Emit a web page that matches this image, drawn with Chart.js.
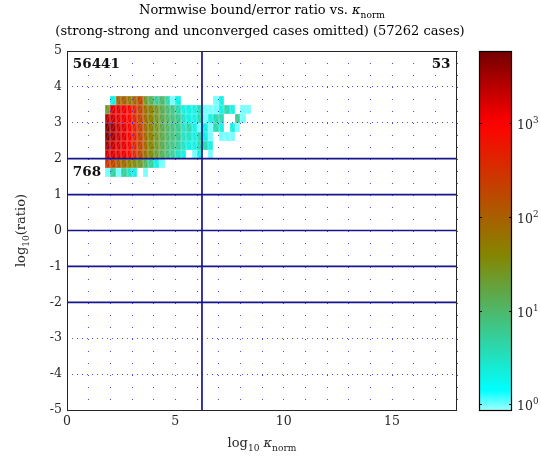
<!DOCTYPE html>
<html>
<head>
<meta charset="utf-8">
<script src="https://cdn.jsdelivr.net/npm/chart.js@4.4.1/dist/chart.umd.min.js"></script>
<style>
  html, body { margin: 0; padding: 0; background: #ffffff; }
  canvas { display: block; }
</style>
</head>
<body>
<canvas id="chart" width="541" height="457"></canvas>
<script>
// ---------------- data ----------------
// left edges of the log10(kappa_norm) bins
const kappaBinLeft = [1.75, 2.00, 2.25, 2.50, 2.75, 3.00, 3.25, 3.50, 3.75, 4.00, 4.25, 4.50, 4.75,
                      5.00, 5.25, 5.50, 5.75, 6.00, 6.25, 6.50, 6.75, 7.00, 7.25, 7.50, 7.75, 8.00, 8.25];
// lower edges of the log10(ratio) bins, top row first
const ratioBinBottom = [3.50, 3.25, 3.00, 2.75, 2.50, 2.25, 2.00, 1.75, 1.50];
const binSize = 0.25;

// number of cases per bin (null = empty bin), one array per ratio bin
const counts_350 = [null, 2, 90, 90, 50, 90, 160, 25, 12, 6, 10, 4, 1, 2, null, null, null, null, null, null, 1, 2, null, null, null, null, null];
const counts_325 = [22, 1500, 1500, 1200, 900, 400, 160, 70, 45, 25, 14, 9, 7, 4, 2, 2, 2, 4, 1, 1, 1, 2, 4, 2, null, 1, 1];
const counts_300 = [2500, 1800, 1400, 1200, 900, 400, 180, 80, 45, 25, 15, 10, 8, 6, 3, 2, 2, 4, 1, 2, 4, 4, null, null, 6, 1, null];
const counts_275 = [5200, 3000, 1800, 1400, 1000, 450, 200, 80, 45, 25, 15, 10, 8, 6, 3, 4, 2, 1, 2, 1, 4, 2, null, 2, 1, null, null];
const counts_250 = [5000, 3000, 1800, 1400, 1000, 450, 200, 80, 45, 25, 15, 10, 8, 6, 3, 3, 2, 4, 2, 1, null, 1, 1, 1, null, null, null];
const counts_225 = [3000, 2000, 1600, 1300, 900, 400, 180, 80, 40, 22, 14, 9, 7, 5, 3, 2, 2, 4, 4, 2, null, null, null, null, null, null, null];
const counts_200 = [1800, 1500, 1400, 1200, 800, 350, 160, 70, 35, 20, 12, 8, 5, 3, 2, null, 1, 2, null, 1, null, null, null, null, null, null, null];
const counts_175 = [280, 180, 110, 70, 45, 35, 22, 11, 5, 2, 1, null, null, null, null, null, null, null, null, null, null, null, null, null, null, null, null];
const counts_150 = [1, 5, 1, 5, 3, 2, null, 1, null, null, null, null, null, null, null, null, null, null, null, null, null, null, null, null, null, null, null];
const countRows = [counts_350, counts_325, counts_300, counts_275, counts_250, counts_225, counts_200, counts_175, counts_150];

// axes
const xGridValues = [0, 1, 2, 3, 4, 5, 6, 7, 8, 9, 10, 11, 12, 13, 14, 15, 16, 17, 18];
const xTickLabels = [0, 5, 10, 15];
const yTickValues = [-5, -4, -3, -2, -1, 0, 1, 2, 3, 4, 5];
const xRange = [0, 18];
const yRange = [-5, 5];

// reference lines
const ratioRefLines = [2, 1, 0, -1, -2];
const kappaRefLine = 6.23;

// quadrant counts
const quadrantCounts = [56441, 53, 768];

// colour bar
const colorLimits = [0.87, 5900];
const colorbarTicks = [1, 10, 100, 1000];
const colorbarExponents = ['0', '1', '2', '3'];

// ---------------- colour map ----------------
const cmapStops = [
  [-0.06, [0.62, 1.00, 1.00]],
  [0.15,  [0.00, 1.00, 1.00]],
  [1.60,  [0.52, 0.52, 0.00]],
  [3.00,  [1.00, 0.00, 0.00]],
  [3.77,  [0.45, 0.00, 0.00]]
];
function cmapColor(lv) {
  if (lv <= cmapStops[0][0]) return rgb(cmapStops[0][1]);
  for (let i = 1; i < cmapStops.length; i++) {
    if (lv <= cmapStops[i][0]) {
      const [a, ca] = cmapStops[i - 1], [b, cb] = cmapStops[i];
      const t = (lv - a) / (b - a);
      return rgb(ca.map((c, k) => c + (cb[k] - c) * t));
    }
  }
  return rgb(cmapStops[cmapStops.length - 1][1]);
}
function rgb(c) {
  return 'rgb(' + c.map(v => Math.round(v * 255)).join(',') + ')';
}

// ---------------- rich text helper ----------------
const SERIF = '"DejaVu Serif", "Liberation Serif", serif';
function fontStr(size, p) {
  return (p.italic ? 'italic ' : '') + (p.bold ? 'bold ' : '') + size + 'px ' + SERIF;
}
function drawRich(ctx, parts, x, y, align, size) {
  let w = 0;
  const sizes = parts.map(p => (p.sub || p.sup) ? size * 0.7 : size);
  parts.forEach((p, i) => { ctx.font = fontStr(sizes[i], p); w += ctx.measureText(p.t).width; });
  let cx = align === 'center' ? x - w / 2 : (align === 'right' ? x - w : x);
  ctx.textAlign = 'left';
  ctx.textBaseline = 'alphabetic';
  parts.forEach((p, i) => {
    ctx.font = fontStr(sizes[i], p);
    const dy = p.sub ? size * 0.3 : (p.sup ? -size * 0.45 : 0);
    ctx.fillText(p.t, cx, y + dy);
    cx += ctx.measureText(p.t).width;
  });
}

// ---------------- plugins ----------------
const heatmapPlugin = {
  id: 'heatmapCells',
  beforeDraw(chart) {
    const { ctx } = chart;
    const xs = chart.scales.x, ys = chart.scales.y;
    ctx.save();
    countRows.forEach((row, r) => {
      const yTop = Math.round(ys.getPixelForValue(ratioBinBottom[r] + binSize));
      const yBot = Math.round(ys.getPixelForValue(ratioBinBottom[r]));
      row.forEach((v, c) => {
        if (v === null || v === undefined) return;
        const xL = Math.round(xs.getPixelForValue(kappaBinLeft[c]));
        const xR = Math.round(xs.getPixelForValue(kappaBinLeft[c] + binSize));
        ctx.fillStyle = cmapColor(Math.log10(v));
        ctx.fillRect(xL, yTop, xR - xL, yBot - yTop);
        ctx.strokeStyle = 'rgba(255,255,255,0.28)';
        ctx.lineWidth = 0.7;
        ctx.strokeRect(xL + 0.35, yTop + 0.35, xR - xL - 0.7, yBot - yTop - 0.7);
        ctx.beginPath();
        ctx.moveTo(xL + 1, yBot - 1);
        ctx.lineTo(xR - 1, yTop + 1);
        ctx.strokeStyle = 'rgba(255,255,255,0.22)';
        ctx.stroke();
      });
    });
    ctx.restore();
  },
  afterDraw(chart) {
    const { ctx, chartArea } = chart;
    const xs = chart.scales.x, ys = chart.scales.y, cb = chart.scales.cb;
    ctx.save();
    // plot frame
    ctx.strokeStyle = '#262626';
    ctx.lineWidth = 1;
    ctx.strokeRect(Math.round(chartArea.left) + 0.5, Math.round(chartArea.top) + 0.5,
                   Math.round(chartArea.right - chartArea.left) - 1, Math.round(chartArea.bottom - chartArea.top));

    // colour bar
    const cbLeft = 479, cbRight = 512;
    const cbTop = cb.getPixelForValue(colorLimits[1]);
    const cbBot = cb.getPixelForValue(colorLimits[0]);
    const grad = ctx.createLinearGradient(0, cbBot, 0, cbTop);
    cmapStops.forEach(([lv, c]) => {
      const py = cb.getPixelForValue(Math.pow(10, lv));
      let t = (cbBot - py) / (cbBot - cbTop);
      t = Math.min(1, Math.max(0, t));
      grad.addColorStop(t, rgb(c));
    });
    ctx.fillStyle = grad;
    ctx.fillRect(cbLeft, cbTop, cbRight - cbLeft, cbBot - cbTop);
    ctx.strokeStyle = '#000';
    ctx.lineWidth = 1.2;
    ctx.strokeRect(cbLeft + 0.5, Math.round(cbTop) + 0.5, cbRight - cbLeft - 1, Math.round(cbBot - cbTop));
    ctx.fillStyle = '#262626';
    colorbarTicks.forEach((v, i) => {
      const py = Math.round(cb.getPixelForValue(v)) + 0.5;
      ctx.beginPath();
      ctx.moveTo(cbLeft, py); ctx.lineTo(cbLeft + 3, py);
      ctx.moveTo(cbRight - 3, py); ctx.lineTo(cbRight, py);
      ctx.lineWidth = 1;
      ctx.strokeStyle = '#000';
      ctx.stroke();
      drawRich(ctx, [{ t: '10' }, { t: colorbarExponents[i], sup: true }], 517, py + 5, 'left', 12.5);
    });

    // quadrant counts
    ctx.fillStyle = '#111';
    drawRich(ctx, [{ t: String(quadrantCounts[0]), bold: true }], xs.getPixelForValue(0.27), ys.getPixelForValue(4.53), 'left', 13.5);
    drawRich(ctx, [{ t: String(quadrantCounts[1]), bold: true }], xs.getPixelForValue(17.7), ys.getPixelForValue(4.53), 'right', 13.5);
    drawRich(ctx, [{ t: String(quadrantCounts[2]), bold: true }], xs.getPixelForValue(0.27), ys.getPixelForValue(1.53), 'left', 13.5);

    // title
    const cx = (chartArea.left + chartArea.right) / 2;
    ctx.fillStyle = '#000';
    drawRich(ctx, [{ t: 'Normwise bound/error ratio vs. ' }, { t: 'κ', italic: true }, { t: 'norm', sub: true }], cx, 14, 'center', 13);
    drawRich(ctx, [{ t: '(strong-strong and unconverged cases omitted) (57262 cases)' }], cx - 2, 35, 'center', 13);

    // x axis title
    ctx.fillStyle = '#262626';
    drawRich(ctx, [{ t: 'log' }, { t: '10', sub: true }, { t: ' ' }, { t: 'κ', italic: true }, { t: 'norm', sub: true }], cx, 447, 'center', 13);

    // y axis title (rotated)
    ctx.save();
    ctx.translate(25, (chartArea.top + chartArea.bottom) / 2);
    ctx.rotate(-Math.PI / 2);
    drawRich(ctx, [{ t: 'log' }, { t: '10', sub: true }, { t: '(ratio)' }], 0, 0, 'center', 13);
    ctx.restore();
    ctx.restore();
  }
};

// ---------------- chart ----------------
const lineColor = '#16168a';
const refDatasets = ratioRefLines.map(r => ({
  data: [{ x: xRange[0], y: r }, { x: xRange[1], y: r }],
  showLine: true, borderColor: lineColor, borderWidth: 1.7, pointRadius: 0, fill: false
}));
refDatasets.push({
  data: [{ x: kappaRefLine, y: yRange[0] }, { x: kappaRefLine, y: yRange[1] }],
  showLine: true, borderColor: lineColor, borderWidth: 1.7, pointRadius: 0, fill: false
});

const tickFont = { family: SERIF, size: 12.5 };
const gridColor = 'rgba(30,30,255,0.8)';

new Chart(document.getElementById('chart'), {
  type: 'scatter',
  data: { datasets: refDatasets },
  options: {
    responsive: false,
    animation: false,
    events: [],
    layout: { padding: { top: 51, left: 0, right: 84, bottom: 0 } },
    plugins: { legend: { display: false }, tooltip: { enabled: false }, title: { display: false } },
    scales: {
      x: {
        type: 'linear', min: xRange[0], max: xRange[1], position: 'bottom',
        afterBuildTicks: s => { s.ticks = xGridValues.map(v => ({ value: v })); },
        afterFit: s => { s.height = 47; },
        ticks: {
          autoSkip: false, maxRotation: 0, padding: 4, color: '#262626', font: tickFont,
          callback: v => xTickLabels.includes(v) ? String(v) : ''
        },
        grid: { color: gridColor, lineWidth: 1, drawTicks: false },
        border: { display: false, dash: [1, 11] }
      },
      y: {
        type: 'linear', min: yRange[0], max: yRange[1], position: 'left',
        afterBuildTicks: s => { s.ticks = yTickValues.map(v => ({ value: v })); },
        afterFit: s => { s.width = 67; },
        ticks: { padding: 5, color: '#262626', font: tickFont, callback: v => String(v) },
        grid: { color: gridColor, lineWidth: 1, drawTicks: false },
        border: { display: false, dash: [1, 4] }
      },
      cb: {
        type: 'logarithmic', position: 'right', display: false,
        min: colorLimits[0], max: colorLimits[1]
      }
    }
  },
  plugins: [heatmapPlugin]
});
</script>
</body>
</html>
